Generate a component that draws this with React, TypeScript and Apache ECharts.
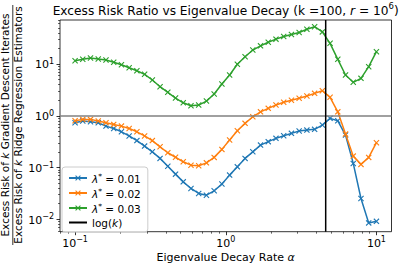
import React, { useEffect, useRef } from "react";
import * as echarts from "echarts";

// Eigenvalue decay rate alpha (log-spaced grid of 40 points, 0.1 .. 10)
const ALPHA = [
  0.1, 0.1125, 0.1266, 0.1425, 0.1604, 0.1805, 0.2031, 0.2285, 0.2572, 0.2894,
  0.3257, 0.3665, 0.4125, 0.4642, 0.5223, 0.5878, 0.6614, 0.7443, 0.8377, 0.9427,
  1.0608, 1.1938, 1.3434, 1.5118, 1.7013, 1.9145, 2.1544, 2.4245, 2.7283, 3.0703,
  3.4551, 3.8882, 4.3755, 4.9239, 5.541, 6.2355, 7.017, 7.8965, 8.8862, 10.0,
];

// Excess risk ratio, lambda* = 0.01
const RATIO_L001 = [
  0.733, 0.794, 0.766, 0.733, 0.631, 0.569, 0.49, 0.407, 0.331, 0.259,
  0.201, 0.15, 0.106, 0.0745, 0.0528, 0.0394, 0.0316, 0.0292, 0.0355, 0.0479,
  0.0713, 0.103, 0.15, 0.201, 0.271, 0.316, 0.366, 0.41, 0.457, 0.506,
  0.528, 0.546, 0.661, 0.891, 0.8, 0.424, 0.12, 0.0252, 0.00851, 0.00912,
];

// Excess risk ratio, lambda* = 0.02
const RATIO_L002 = [
  0.8, 0.851, 0.851, 0.794, 0.733, 0.681, 0.631, 0.569, 0.49, 0.407,
  0.331, 0.251, 0.193, 0.158, 0.129, 0.111, 0.108, 0.123, 0.157, 0.224,
  0.339, 0.513, 0.713, 0.955, 1.19, 1.39, 1.61, 1.82, 2.0, 2.17,
  2.4, 2.71, 3.05, 2.27, 1.19, 0.443, 0.166, 0.115, 0.157, 0.302,
];

// Excess risk ratio, lambda* = 0.03
const RATIO_L003 = [
  11.59, 12.33, 13.06, 12.5, 11.94, 10.79, 9.68, 8.47, 7.41, 6.32,
  4.91, 3.64, 2.84, 2.2, 1.78, 1.56, 1.61, 1.92, 2.63, 4.1,
  6.12, 9.86, 13.8, 18.6, 22.4, 26.3, 30.2, 33.9, 37.2, 40.7,
  46.8, 52.5, 41.7, 25.1, 12.3, 6.12, 4.43, 5.28, 8.87, 17.3,
];

const SERIES_NAMES = ["l001", "l002", "l003"];
const SERIES_LABELS = ["0.01", "0.02", "0.03"];
const SERIES_COLORS = ["#1f77b4", "#ff7f0e", "#2ca02c"];
const K = 100;
const REFERENCE_RATIO = 1;

// axis tick exponents (decades) and log10 view ranges
const X_TICK_EXP = [-1, 0, 1];
const Y_TICK_EXP = [-2, -1, 0, 1];
const X_RANGE = [-1.1, 1.1];
const Y_RANGE = [-2.24, 1.85];

const FONT = "DejaVu Sans";
const XSYM =
  "path://M0,1.3L1.3,0L5,3.7L8.7,0L10,1.3L6.3,5L10,8.7L8.7,10L5,6.3L1.3,10L0,8.7L3.7,5Z";

function minorTicks(lo: number, hi: number): number[] {
  const out: number[] = [];
  for (let e = Math.floor(lo); e <= Math.ceil(hi); e++) {
    for (let m = 2; m <= 9; m++) {
      const v = e + Math.log10(m);
      if (v > lo && v < hi) out.push(v);
    }
  }
  return out;
}

function expLabel(v: number): string {
  const e = Math.round(v);
  const s = e < 0 ? "\u2212" + Math.abs(e) : String(e);
  return "{b|10}{s|" + s + "}";
}

const tickRich = {
  b: { fontFamily: FONT, fontSize: 11, color: "#000", verticalAlign: "bottom" },
  s: { fontFamily: FONT, fontSize: 8, color: "#000", verticalAlign: "bottom", padding: [0, 0, 5, 0] },
};

export default function App() {
  const ref = useRef<HTMLDivElement>(null);

  useEffect(() => {
    if (!ref.current) return;
    const chart = echarts.init(ref.current, undefined, { renderer: "svg" });
    const data = [RATIO_L001, RATIO_L002, RATIO_L003];
    const logK = Math.log10(Math.log(K));

    const lineSeries: any[] = data.map((vals, si) => ({
      type: "line",
      name: SERIES_NAMES[si],
      xAxisIndex: 0,
      yAxisIndex: 0,
      data: ALPHA.map((a, i) => [Math.log10(a), Math.log10(vals[i])]),
      symbol: XSYM,
      symbolSize: 6,
      showSymbol: true,
      lineStyle: { color: SERIES_COLORS[si], width: 1.5 },
      itemStyle: { color: SERIES_COLORS[si] },
      z: 3 + si,
      silent: true,
    }));

    lineSeries.push({
      type: "line",
      name: "logk",
      data: [
        [logK, Y_RANGE[0]],
        [logK, Y_RANGE[1]],
      ],
      symbol: "none",
      lineStyle: { color: "#000", width: 1.5 },
      itemStyle: { color: "#000" },
      z: 8,
      silent: true,
      markLine: {
        silent: true,
        symbol: "none",
        label: { show: false },
        lineStyle: { color: "#808080", width: 1.5, type: "solid" },
        data: [{ yAxis: Math.log10(REFERENCE_RATIO) }],
      },
    });

    const legendRich = {
      i: { fontFamily: FONT, fontSize: 10.5, fontStyle: "italic", color: "#000", verticalAlign: "bottom" },
      s: { fontFamily: FONT, fontSize: 7.5, color: "#000", verticalAlign: "bottom", padding: [0, 0, 4, 0] },
      n: { fontFamily: FONT, fontSize: 10.5, color: "#000", verticalAlign: "bottom" },
    };

    const axisBase = {
      type: "value",
      axisLine: { show: false, onZero: false },
      splitLine: { show: false },
    };

    chart.setOption({
      animation: false,
      backgroundColor: "#fff",
      grid: {
        left: 60,
        top: 20,
        right: 15.5,
        bottom: 35.3,
        show: true,
        borderColor: "#000",
        borderWidth: 0.8,
        backgroundColor: "transparent",
      },
      xAxis: [
        {
          ...axisBase,
          min: X_RANGE[0],
          max: X_RANGE[1],
          position: "bottom",
          axisTick: { show: true, inside: false, length: 3.5, customValues: X_TICK_EXP, lineStyle: { color: "#000", width: 0.8 } },
          axisLabel: { show: true, customValues: X_TICK_EXP, margin: 4, formatter: expLabel, rich: tickRich },
        },
        {
          ...axisBase,
          min: X_RANGE[0],
          max: X_RANGE[1],
          position: "bottom",
          axisTick: { show: true, inside: false, length: 2, customValues: minorTicks(X_RANGE[0], X_RANGE[1]), lineStyle: { color: "#000", width: 0.6 } },
          axisLabel: { show: false },
        },
      ],
      yAxis: [
        {
          ...axisBase,
          min: Y_RANGE[0],
          max: Y_RANGE[1],
          position: "left",
          axisTick: { show: true, inside: false, length: 3.5, customValues: Y_TICK_EXP, lineStyle: { color: "#000", width: 0.8 } },
          axisLabel: { show: true, customValues: Y_TICK_EXP, margin: 6, formatter: expLabel, rich: tickRich },
        },
        {
          ...axisBase,
          min: Y_RANGE[0],
          max: Y_RANGE[1],
          position: "left",
          axisTick: { show: true, inside: false, length: 2, customValues: minorTicks(Y_RANGE[0], Y_RANGE[1]), lineStyle: { color: "#000", width: 0.6 } },
          axisLabel: { show: false },
        },
      ],
      legend: {
        orient: "vertical",
        left: 62,
        top: 167,
        data: [
          ...SERIES_NAMES,
          { name: "logk", itemStyle: { opacity: 0 } },
        ],
        itemWidth: 18,
        itemHeight: 7,
        itemGap: 3,
        padding: [5, 7, 4, 6],
        borderColor: "#cccccc",
        borderWidth: 1,
        borderRadius: 3,
        backgroundColor: "rgba(255,255,255,0.8)",
        selectedMode: false,
        textStyle: { fontFamily: FONT, fontSize: 10.5, color: "#000", rich: legendRich },
        formatter: (name: string) => {
          const idx = SERIES_NAMES.indexOf(name);
          if (idx >= 0) return "{i|\u03bb}{s|*}{n| = " + SERIES_LABELS[idx] + "}";
          return "{n|log(}{i|k}{n|)}";
        },
      },
      graphic: [
        {
          type: "text",
          x: 225.7,
          y: 9,
          style: {
            text: "{a|Excess Risk Ratio vs Eigenvalue Decay (k =100, }{i|r}{a| = 10}{s|6}{a|)}",
            align: "center",
            verticalAlign: "middle",
            rich: {
              a: { fontFamily: FONT, fontSize: 12.2, fill: "#000", verticalAlign: "bottom" },
              i: { fontFamily: FONT, fontSize: 12.2, fontStyle: "italic", fill: "#000", verticalAlign: "bottom" },
              s: { fontFamily: FONT, fontSize: 8.5, fill: "#000", verticalAlign: "bottom", padding: [0, 0, 6, 0] },
            },
          },
        },
        {
          type: "text",
          x: 225.7,
          y: 257,
          style: {
            text: "{a|Eigenvalue Decay Rate }{i|\u03b1}",
            align: "center",
            verticalAlign: "middle",
            rich: {
              a: { fontFamily: FONT, fontSize: 11, fill: "#000" },
              i: { fontFamily: FONT, fontSize: 11, fontStyle: "italic", fill: "#000" },
            },
          },
        },
        {
          type: "text",
          x: 5,
          y: 125,
          rotation: Math.PI / 2,
          style: {
            text: "{a|Excess Risk of }{i|k}{a| Gradient Descent Iterates}",
            align: "center",
            verticalAlign: "middle",
            rich: {
              a: { fontFamily: FONT, fontSize: 10.5, fill: "#000" },
              i: { fontFamily: FONT, fontSize: 10.5, fontStyle: "italic", fill: "#000" },
            },
          },
        },
        {
          type: "line",
          shape: { x1: 12.8, y1: 5, x2: 12.8, y2: 245 },
          style: { stroke: "#000", lineWidth: 0.8 },
        },
        {
          type: "text",
          x: 18,
          y: 125,
          rotation: Math.PI / 2,
          style: {
            text: "{a|Excess Risk of }{i|k}{a| Ridge Regression Estimators}",
            align: "center",
            verticalAlign: "middle",
            rich: {
              a: { fontFamily: FONT, fontSize: 10.5, fill: "#000" },
              i: { fontFamily: FONT, fontSize: 10.5, fontStyle: "italic", fill: "#000" },
            },
          },
        },
      ],
      series: lineSeries,
    });

    return () => chart.dispose();
  }, []);

  return (
    <div
      ref={ref}
      style={{ position: "absolute", left: 0, top: 0, width: 407, height: 267, background: "#fff" }}
    />
  );
}
